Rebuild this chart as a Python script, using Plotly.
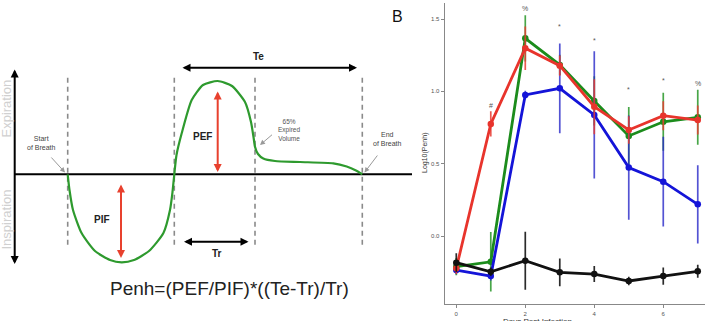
import plotly.graph_objects as go

# ---------------- Panel B data (line chart) ----------------
days = [0, 1, 2, 3, 4, 5, 6, 7]
red_vals = [-0.223, 0.775, 1.298, 1.178, 0.894, 0.733, 0.832, 0.802]
red_err = [0.04, 0.087, 0.15, 0.07, 0.19, 0.095, 0.10, 0.10]
green_vals = [-0.212, -0.178, 1.367, 1.183, 0.934, 0.692, 0.79, 0.821]
green_err = [0.06, 0.205, 0.16, 0.07, 0.17, 0.2, 0.2, 0.19]
blue_vals = [-0.235, -0.277, 0.975, 1.021, 0.837, 0.473, 0.376, 0.219]
blue_err = [0.03, 0.03, 0.03, 0.31, 0.44, 0.36, 0.31, 0.27]
black_vals = [-0.184, -0.247, -0.171, -0.251, -0.263, -0.311, -0.277, -0.244]
black_err = [0.065, 0.03, 0.2, 0.096, 0.055, 0.03, 0.06, 0.045]
sig_days = [1, 2, 3, 4, 5, 6, 7]
sig_marks = ["#", "%", "*", "*", "*", "*", "%"]
sig_y = [0.905, 1.575, 1.45, 1.355, 1.014, 1.074, 1.056]
y_ticks = [0.0, 0.5, 1.0, 1.5]
y_ticktext = ["0.0", "0.5", "1.0", "1.5"]
x_ticks = [0, 2, 4, 6]

# ---------------- Panel A data (breath schematic, canvas units) ----------------
curve_x = [67.7, 69.5, 73, 81.7, 95, 110, 121.7, 134, 149, 163.3, 170, 172.5, 174.3,
           176.5, 181.7, 191.7, 203, 217.7, 232, 245, 251, 253.5, 255, 258, 263.3,
           275, 300, 333.3, 346.7, 356, 362.3]
curve_y = [174.3, 190, 210, 233.3, 251, 260, 262.3, 260, 251, 233.3, 210, 192, 174.3,
           155, 133.3, 100, 85, 81, 86, 102, 122, 137, 146.7, 154, 158.5,
           161, 162, 163.3, 166.5, 170.5, 174.3]
dash_x = [67.7, 174.3, 255, 362.3]
dash_top, dash_bottom = 77.7, 248
baseline_x = [14.7, 412]
baseline_y = 174.3
canvas_w = 440

fig = go.Figure()

# schematic: dashed verticals
for dx in dash_x:
    fig.add_trace(go.Scatter(x=[dx, dx], y=[dash_top, dash_bottom], mode="lines",
                             line=dict(color="#8a8a8a", width=1.6, dash="5px,4px"),
                             xaxis="x2", yaxis="y2", showlegend=False, hoverinfo="skip"))
# baseline
fig.add_trace(go.Scatter(x=baseline_x, y=[baseline_y, baseline_y], mode="lines",
                         line=dict(color="black", width=2),
                         xaxis="x2", yaxis="y2", showlegend=False, hoverinfo="skip"))
# green breath curve
fig.add_trace(go.Scatter(x=curve_x, y=curve_y, mode="lines",
                         line=dict(color="#2e9a2e", width=2.2, shape="spline", smoothing=0.6),
                         xaxis="x2", yaxis="y2", showlegend=False, hoverinfo="skip"))

annots = []


def darrow(x0, y0, x1, y1, color, width=2, size=0.9):
    annots.append(dict(x=x1, y=y1, ax=x0, ay=y0, xref="x2", yref="y2", axref="x2", ayref="y2",
                       showarrow=True, arrowhead=2, startarrowhead=2, arrowside="end+start",
                       arrowsize=size, startarrowsize=size, arrowwidth=width,
                       arrowcolor=color, text=""))


def sarrow(x0, y0, x1, y1, color="#999999"):
    annots.append(dict(x=x1, y=y1, ax=x0, ay=y0, xref="x2", yref="y2", axref="x2", ayref="y2",
                       showarrow=True, arrowhead=2, arrowsize=1, arrowwidth=1,
                       arrowcolor=color, text=""))


def txt(x, y, s, size, color="#222", bold=False, angle=0, font="Liberation Sans"):
    annots.append(dict(x=x, y=y, xref="x2", yref="y2", showarrow=False,
                       text=("<b>%s</b>" % s) if bold else s, textangle=angle,
                       font=dict(size=size, color=color, family=font),
                       xanchor="center", yanchor="middle"))


# vertical axis arrow
darrow(14.7, 68, 14.7, 264, "black", width=2, size=0.8)
# PIF / PEF red arrows
darrow(121, 183, 121, 258, "#e8412e", width=2, size=0.8)
darrow(217.7, 90, 217.7, 172, "#e8412e", width=2, size=0.8)
# Te / Tr arrows
darrow(181, 67.7, 357, 67.7, "black", width=2, size=0.8)
darrow(182.5, 241.7, 248.5, 241.7, "black", width=2, size=0.8)
# small grey pointer arrows
sarrow(50, 156, 65, 172.5)
sarrow(273.5, 133.5, 260, 145)
sarrow(378.5, 154, 364.5, 172.5)

txt(258.3, 56.5, "Te", 10, "#222", bold=True)
txt(216.7, 253.5, "Tr", 10, "#222", bold=True)
txt(202.7, 136, "PEF", 10, "#222", bold=True)
txt(102.3, 219.3, "PIF", 10, "#222", bold=True)
txt(41.3, 143.2, "Start<br>of Breath", 7, "#444")
txt(289.3, 129.5, "65%<br>Expired<br>Volume", 6.5, "#555")
txt(387.5, 138.7, "End<br>of Breath", 7, "#444")
txt(5.5, 109, "Expiration", 13, "#d0d0d0", angle=-90)
txt(5.5, 220, "Inspiration", 13, "#d0d0d0", angle=-90)
txt(229.5, 288, "Penh=(PEF/PIF)*((Te-Tr)/Tr)", 19, "#222")
txt(397.7, 16.7, "B", 16, "#111")

# ---------------- Panel B traces ----------------
series = [
    (green_vals, green_err, "#1c8c1c", "rgba(40,150,40,0.85)"),
    (blue_vals, blue_err, "#1414d8", "rgba(40,40,200,0.8)"),
    (red_vals, red_err, "#e8342c", "rgba(232,60,50,0.85)"),
    (black_vals, black_err, "#111111", "rgba(20,20,20,0.9)"),
]
for vals, err, col, ecol in series:
    fig.add_trace(go.Scatter(
        x=days, y=vals, mode="lines+markers",
        line=dict(color=col, width=2.8),
        marker=dict(color=col, size=6.5),
        error_y=dict(type="data", array=err, visible=True, width=0, thickness=1.7, color=ecol),
        xaxis="x", yaxis="y", showlegend=False))

for d, m, yv in zip(sig_days, sig_marks, sig_y):
    annots.append(dict(x=d, y=yv, xref="x", yref="y", text=m, showarrow=False,
                       font=dict(size=7, color="#555", family="Liberation Sans")))

annots.append(dict(x=425 / 705, y=1 - 153 / 321, xref="paper", yref="paper",
                   text="Log10(Penh)", textangle=-90, showarrow=False,
                   font=dict(size=7, color="#333", family="Liberation Sans")))
annots.append(dict(x=574 / 705, y=1 - 322 / 321, xref="paper", yref="paper",
                   text="Days Post Infection", showarrow=False, yanchor="middle",
                   font=dict(size=8, color="#333", family="Liberation Sans")))

fig.update_layout(
    width=705, height=321,
    margin=dict(l=0, r=0, t=0, b=0),
    paper_bgcolor="white", plot_bgcolor="rgba(0,0,0,0)",
    annotations=annots,
    xaxis=dict(domain=[444.7 / 705, 1], range=[-0.336, 7.21], tickvals=x_ticks,
               ticks="outside", ticklen=3, tickcolor="#888", showline=True,
               linecolor="#888", linewidth=1.2, showgrid=False, zeroline=False,
               tickfont=dict(size=6, color="#555", family="Liberation Sans")),
    yaxis=dict(domain=[1 - 304.3 / 321, 1 - 3 / 321], range=[-0.472, 1.611],
               tickvals=y_ticks, ticktext=y_ticktext,
               ticks="outside", ticklen=3, tickcolor="#888", showline=True,
               linecolor="#888", linewidth=1.2, showgrid=False, zeroline=False,
               tickfont=dict(size=6, color="#555", family="Liberation Sans")),
    xaxis2=dict(domain=[0, canvas_w / 705], range=[0, canvas_w], visible=False, anchor="y2"),
    yaxis2=dict(domain=[0, 1], range=[321, 0], visible=False, anchor="x2"),
)

fig.write_html("out.html")
